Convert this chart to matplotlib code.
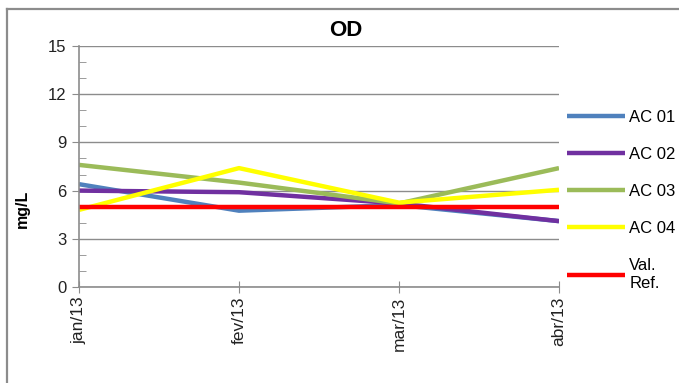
import matplotlib
matplotlib.use('Agg')
import matplotlib.pyplot as plt
from matplotlib.lines import Line2D
from matplotlib.ticker import MultipleLocator

plt.rcParams['font.family'] = ['Liberation Sans', 'DejaVu Sans']

meses = ['jan/13', 'fev/13', 'mar/13', 'abr/13']
ac01 = [6.4, 4.75, 5.1, 4.1]
ac02 = [6.0, 5.9, 5.2, 4.1]
ac03 = [7.6, 6.5, 5.2, 7.4]
ac04 = [4.8, 7.4, 5.25, 6.05]
val_ref = [5, 5, 5, 5]

series = [
    ('AC 01', ac01, '#4F81BD'),
    ('AC 02', ac02, '#7030A0'),
    ('AC 03', ac03, '#9BBB59'),
    ('AC 04', ac04, '#FFFF00'),
    ('Val.\nRef.', val_ref, '#FF0000'),
]

W, H = 679, 383
fig = plt.figure(figsize=(W / 100, H / 100), dpi=100)

# moldura do gráfico (só topo e esquerda aparecem)
borda = '#8c8c8c'
fig.add_artist(Line2D([7 / W, 1], [1 - 9 / H, 1 - 9 / H], color=borda, linewidth=1.6))
fig.add_artist(Line2D([7 / W, 7 / W], [0, 1 - 9 / H], color=borda, linewidth=1.6))

ax = fig.add_axes([79 / W, 1 - 287 / H, 480 / W, 241 / H])
x = list(range(len(meses)))
for nome, valores, cor in series:
    ax.plot(x, valores, color=cor, linewidth=3.2, label=nome, solid_capstyle='butt')

ax.set_xlim(0, 3)
ax.set_ylim(0, 15)
ax.yaxis.set_major_locator(MultipleLocator(3))
ax.yaxis.set_minor_locator(MultipleLocator(1))
ax.set_xticks(x)
ax.set_xticklabels(meses, rotation=90, fontsize=12.5, color='#222222')
ax.tick_params(axis='y', which='major', direction='out', length=5,
               color=borda, labelsize=12, labelcolor='#222222', pad=4)
ax.tick_params(axis='y', which='minor', direction='in', length=5, color=borda)
ax.tick_params(axis='x', direction='inout', length=8, color=borda, pad=3)
ax.grid(axis='y', which='major', color=borda, linewidth=1)
ax.set_axisbelow(True)
for lado in ['top', 'right']:
    ax.spines[lado].set_visible(False)
for lado in ['left', 'bottom']:
    ax.spines[lado].set_color(borda)
    ax.spines[lado].set_linewidth(1.2)

fig.text(346 / W, 1 - 31 / H, 'OD', fontsize=16, fontweight='bold',
         ha='center', va='center')
fig.text(22 / W, 1 - 209 / H, 'mg/L', fontsize=11.5, fontweight='bold',
         rotation=90, ha='center', va='center')

fig.legend(loc='upper left', bbox_to_anchor=(560 / W, 1 - 103 / H),
           frameon=False, fontsize=12, handlelength=3.5, handletextpad=0.25,
           labelspacing=1.33, borderaxespad=0)

fig.savefig('out.png', dpi=100)
